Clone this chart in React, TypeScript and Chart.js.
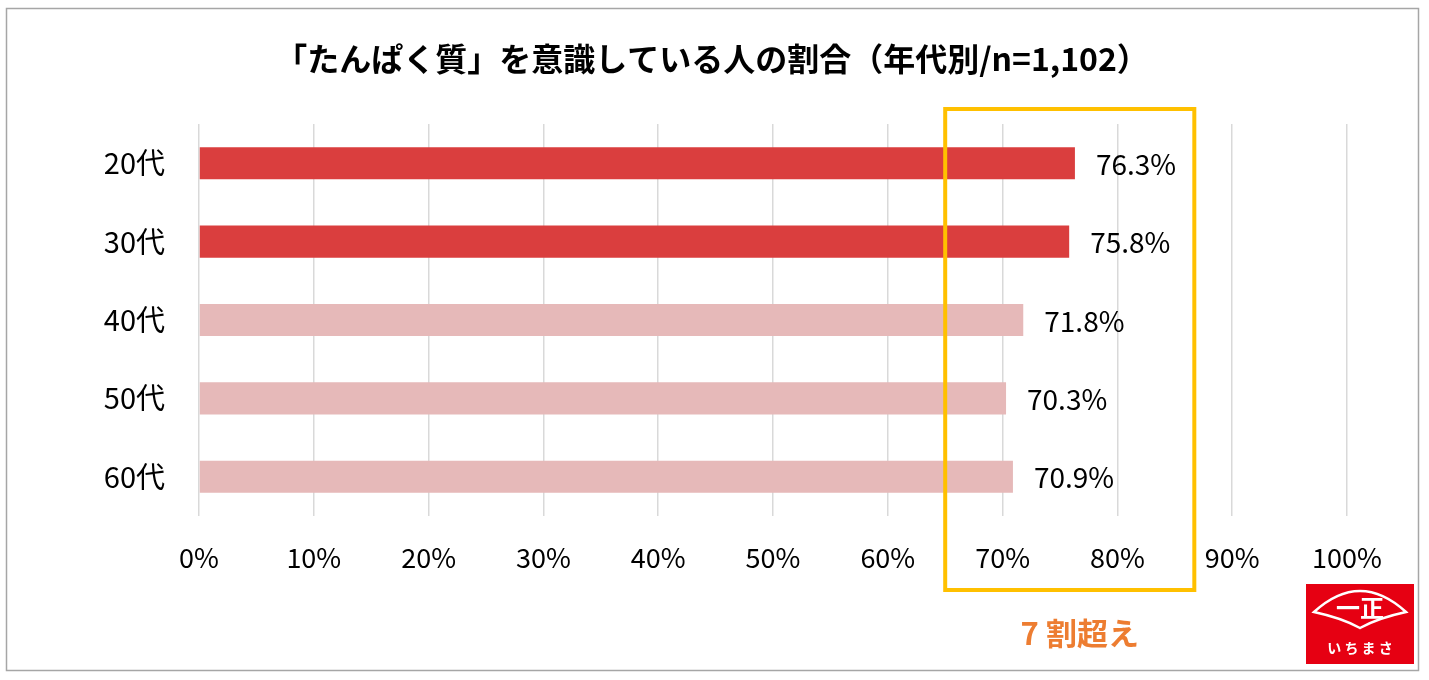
import React, { useEffect, useRef } from "react";
import { Chart, registerables } from "chart.js";

Chart.register(...registerables);

const TITLE = "「たんぱく質」を意識している人の割合（年代別/n=1,102）";
const categories = ["20代", "30代", "40代", "50代", "60代"];
const values = [76.3, 75.8, 71.8, 70.3, 70.9];
const barColors = ["#DA3E3E", "#DA3E3E", "#E6B9B9", "#E6B9B9", "#E6B9B9"];
const xMin = 0;
const xMax = 100;
const xStep = 10;
const highlightFrom = 65;
const highlightTo = 86.7;
const highlightLabel = "7 割超え";
const logoMark = "一正";
const logoText = "いちまさ";

const FONT = "'Noto Sans CJK JP', 'Noto Sans', sans-serif";

const decorPlugin = {
  id: "decor",
  beforeDraw(chart: any) {
    const { ctx, width, height } = chart;
    ctx.save();
    ctx.fillStyle = "#ffffff";
    ctx.fillRect(0, 0, width, height);
    ctx.restore();
  },
  afterDatasetsDraw(chart: any) {
    const { ctx } = chart;
    const meta = chart.getDatasetMeta(0);
    ctx.save();
    ctx.font = `28px ${FONT}`;
    ctx.fillStyle = "#000000";
    ctx.textAlign = "left";
    ctx.textBaseline = "middle";
    meta.data.forEach((el: any, i: number) => {
      ctx.fillText(values[i].toFixed(1) + "%", el.x + 21, el.y + 1);
    });
    ctx.restore();
  },
  afterDraw(chart: any) {
    const { ctx, chartArea } = chart;
    const xs = chart.scales.x;
    ctx.save();
    // outer border
    ctx.strokeStyle = "#A6A6A6";
    ctx.lineWidth = 1.5;
    ctx.strokeRect(6.5, 8.5, 1412, 662);
    // title
    ctx.fillStyle = "#000000";
    ctx.font = `bold 32px ${FONT}`;
    ctx.textAlign = "center";
    ctx.textBaseline = "middle";
    ctx.fillText(TITLE, 712, 59);
    // highlight box
    const bx1 = xs.getPixelForValue(highlightFrom);
    const bx2 = xs.getPixelForValue(highlightTo);
    const by1 = chartArea.top - 15;
    const by2 = chartArea.bottom + 74;
    ctx.strokeStyle = "#FFC000";
    ctx.lineWidth = 4;
    ctx.strokeRect(bx1, by1, bx2 - bx1, by2 - by1);
    // highlight label
    ctx.fillStyle = "#ED7D31";
    ctx.font = `bold 31px ${FONT}`;
    ctx.textAlign = "center";
    ctx.textBaseline = "middle";
    ctx.fillText(highlightLabel, (bx1 + bx2) / 2 + 10, by2 + 43);
    // logo
    const lx = 1306, ly = 584, lw = 108, lh = 80;
    ctx.fillStyle = "#E60012";
    ctx.fillRect(lx, ly, lw, lh);
    ctx.strokeStyle = "#ffffff";
    ctx.lineWidth = 2.5;
    ctx.beginPath();
    ctx.moveTo(lx + 8, ly + 28);
    ctx.quadraticCurveTo(lx + 54, ly - 14, lx + 100, ly + 28);
    ctx.quadraticCurveTo(lx + 72, ly + 34, lx + 54, ly + 44);
    ctx.quadraticCurveTo(lx + 36, ly + 34, lx + 8, ly + 28);
    ctx.closePath();
    ctx.stroke();
    ctx.fillStyle = "#ffffff";
    ctx.font = `bold 24px ${FONT}`;
    ctx.fillText(logoMark, lx + 54, ly + 24);
    ctx.font = `bold 14px ${FONT}`;
    ctx.fillText(logoText.split("").join(" "), lx + 54, ly + 64);
    ctx.restore();
  },
};

export default function App() {
  const ref = useRef<HTMLCanvasElement | null>(null);
  useEffect(() => {
    document.body.style.margin = "0";
    const canvas = ref.current;
    if (!canvas) return;
    Chart.defaults.font.family = FONT;
    const chart = new Chart(canvas, {
      type: "bar",
      data: {
        labels: categories,
        datasets: [
          {
            data: values,
            backgroundColor: barColors,
            borderWidth: 0,
            categoryPercentage: 1,
            barPercentage: 0.41,
          },
        ],
      },
      options: {
        indexAxis: "y",
        responsive: false,
        animation: false,
        devicePixelRatio: 1,
        layout: { padding: { top: 124, right: 82, left: 0, bottom: 0 } },
        plugins: {
          legend: { display: false },
          title: { display: false },
          tooltip: { enabled: false },
        },
        scales: {
          x: {
            min: xMin,
            max: xMax,
            ticks: {
              stepSize: xStep,
              padding: 26,
              color: "#000000",
              font: { size: 27, family: FONT },
              callback: (v: any) => v + "%",
            },
            grid: { color: "#D9D9D9", lineWidth: 1.5, drawTicks: false },
            border: { display: false },
            afterFit: (s: any) => {
              s.height = 164;
            },
          },
          y: {
            ticks: {
              padding: 34,
              color: "#000000",
              font: { size: 29, family: FONT },
            },
            grid: { display: false, drawTicks: false },
            border: { display: false },
            afterFit: (s: any) => {
              s.width = 199;
            },
          },
        },
      } as any,
      plugins: [decorPlugin],
    });
    return () => chart.destroy();
  }, []);
  return (
    <div style={{ width: 1429, height: 680 }}>
      <canvas ref={ref} width={1429} height={680} style={{ display: "block", width: 1429, height: 680 }} />
    </div>
  );
}
